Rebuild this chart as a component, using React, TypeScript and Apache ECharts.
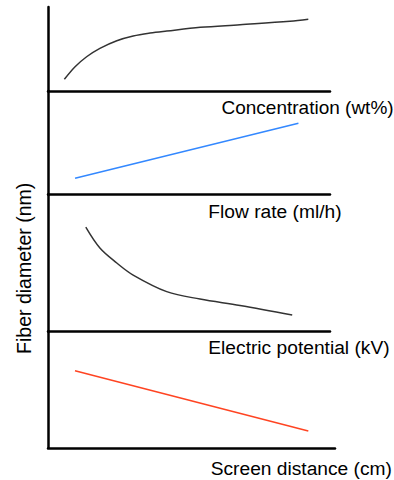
import React, { useEffect, useRef } from "react";
import * as echarts from "echarts";

// Panel labels (x-axis variables) and shared y label
const panelLabels = [
  "Concentration (wt%)",
  "Flow rate (ml/h)",
  "Electric potential (kV)",
  "Screen distance (cm)",
];
const yLabel = "Fiber diameter (nm)";

// Qualitative trends, x and y in 0..100 relative units of each panel
const concentrationX = [5.8, 9.6, 13.7, 18.4, 24.4, 30.2, 36.2, 42.1, 54, 68.1, 85.8, 92.3];
const concentrationY = [13.9, 28.9, 40.8, 50.8, 59.9, 65.5, 69, 71.4, 75.8, 78.9, 83, 85.4];

const flowRateX = [9.6, 88.8];
const flowRateY = [15.7, 68.8];

const potentialX = [13.4, 18.4, 24.4, 30.2, 42.1, 53.9, 68.1, 86.6];
const potentialY = [76.1, 60.9, 50.0, 41.2, 29.1, 23.7, 19.0, 12.0];

const distanceX = [9.4, 90.7];
const distanceY = [66.3, 14.4];

const seriesColors = ["#333333", "#3388ff", "#333333", "#ff4422"];

const FONT = "'Liberation Sans', Arial, Helvetica, sans-serif";

export default function App() {
  const ref = useRef<HTMLDivElement>(null);

  useEffect(() => {
    if (!ref.current) return;
    const chart = echarts.init(ref.current, undefined, { renderer: "svg" });

    const grids = [
      { left: 48, top: 7, width: 282, height: 84 },
      { left: 48, top: 91, width: 282, height: 103.5 },
      { left: 48, top: 194.5, width: 282, height: 137 },
      { left: 48, top: 331.5, width: 287, height: 116.3 },
    ];

    const xs = [concentrationX, flowRateX, potentialX, distanceX];
    const ys = [concentrationY, flowRateY, potentialY, distanceY];

    const axisLine = { show: true, onZero: false, lineStyle: { color: "#000", width: 2.5 } };

    const labelPos = [
      { left: 221.5, cy: 107, size: 19 },
      { left: 208.3, cy: 211, size: 19.2 },
      { left: 208.3, cy: 347.7, size: 19.2 },
      { left: 210.7, cy: 468.3, size: 19.2 },
    ];

    const option: any = {
      animation: false,
      backgroundColor: "#fff",
      grid: grids.map((g) => ({ ...g, containLabel: false })),
      xAxis: grids.map((_, i) => ({
        type: "value",
        gridIndex: i,
        min: 0,
        max: 100,
        axisLine,
        axisTick: { show: false },
        axisLabel: { show: false },
        splitLine: { show: false },
      })),
      yAxis: grids.map((_, i) => ({
        type: "value",
        gridIndex: i,
        min: 0,
        max: 100,
        axisLine,
        axisTick: { show: false },
        axisLabel: { show: false },
        splitLine: { show: false },
      })),
      series: grids.map((_, i) => ({
        type: "line",
        xAxisIndex: i,
        yAxisIndex: i,
        data: xs[i].map((x, k) => [x, ys[i][k]]),
        smooth: xs[i].length > 2 ? 0.35 : false,
        showSymbol: false,
        symbol: "none",
        lineStyle: { color: seriesColors[i], width: 1.5 },
        silent: true,
      })),
      graphic: labelPos.map((p, i) => ({
        type: "text",
        x: p.left,
        y: p.cy,
        style: {
          text: panelLabels[i],
          fill: "#000",
          font: `${p.size}px ${FONT}`,
          textAlign: "left",
          textVerticalAlign: "middle",
        },
      })).concat([
        {
          type: "text",
          x: 24,
          y: 268.3,
          rotation: Math.PI / 2,
          style: {
            text: yLabel,
            fill: "#000",
            font: `19.5px ${FONT}`,
            textAlign: "center",
            textVerticalAlign: "middle",
          },
        } as any,
      ]),
    };

    chart.setOption(option);
    return () => chart.dispose();
  }, []);

  return (
    <div
      ref={ref}
      style={{ position: "fixed", left: 0, top: 0, width: 394, height: 480, background: "#fff" }}
    />
  );
}
